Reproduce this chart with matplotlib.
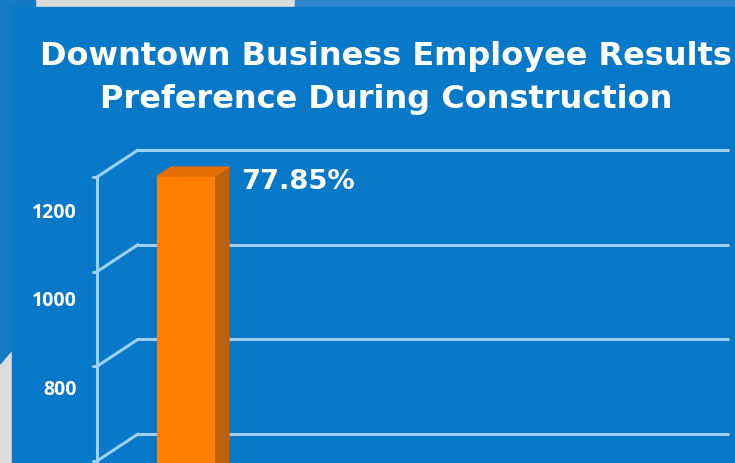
import matplotlib.pyplot as plt
from matplotlib.patches import Polygon, Rectangle

# chart data
title_lines = ['Downtown Business Employee Results', 'Preference During Construction']
categories = ['Employees']
values = [1385]
pct_labels = ['77.85%']
grid_values = [600, 800, 1000, 1200, 1400]
tick_values = [800, 1000, 1200]
tick_labels = ['800', '1000', '1200']

W, H = 735, 463
BLUE = '#0878c8'
GRID = '#9dd0f6'
ORANGE = '#ff7f00'
ORANGE_SIDE = '#c0600c'
ORANGE_TOP = '#e46e04'


def setup_axes(fig):
    ax = fig.add_axes([0, 0, 1, 1])
    ax.set_zorder(5)
    ax.set_facecolor('none')
    # back wall: value 1400 at 150 px, value 800 at 434 px (from top)
    ppu = (434 - 150) / 600
    ax.set_ylim(1400 - (H - 150) / ppu, 1400 + 150 / ppu)
    bar_w = 0.6
    ppc = 58 / bar_w
    x_left = -186 / ppc
    ax.set_xlim(x_left, x_left + W / ppc)
    ax.axis('off')
    return ax, ppu, ppc, x_left, bar_w


def draw_background(fig):
    fig.patch.set_facecolor('#dcdcdc')
    # bits of the other slides around the photographed one
    fig.patches.append(Polygon([[0, 1], [12 / W, 1], [12 / W, 1 - 350 / H], [0, 1 - 364 / H]],
                               closed=True, transform=fig.transFigure, color='#1479c4', zorder=0))
    fig.patches.append(Rectangle((0, 1 - 8 / H), 35 / W, 8 / H, transform=fig.transFigure,
                                 color='#1479c4', zorder=0))
    fig.patches.append(Rectangle((295 / W, 1 - 8 / H), 440 / W, 8 / H, transform=fig.transFigure,
                                 color='#2d86cc', zorder=0))
    fig.patches.append(Rectangle((12 / W, 0), (W - 12) / W, (H - 7) / H, transform=fig.transFigure,
                                 color=BLUE, zorder=1))


def main():
    fig = plt.figure(figsize=(W / 100, H / 100), dpi=100)
    draw_background(fig)
    ax, ppu, ppc, x_left, bar_w = setup_axes(fig)

    def dx(px):
        return px / ppc

    def dy(px):
        return px / ppu

    y_bot = ax.get_ylim()[0]
    wall_l = x_left + dx(138)
    wall_r = x_left + dx(728)
    front_x = x_left + dx(97)
    depth_y = 27

    line_kw = dict(color=GRID, lw=2.2, solid_capstyle='round', zorder=2)
    for v in grid_values:
        ax.plot([wall_l, wall_r], [v, v], **line_kw)
        ax.plot([front_x, wall_l], [v - dy(depth_y), v], **line_kw)
        ax.plot([front_x - dx(4), front_x], [v - dy(depth_y)] * 2, **line_kw)
    ax.plot([front_x, front_x], [y_bot, max(grid_values) - dy(depth_y)], **line_kw)

    # labels on the front axis sit on a slightly squeezed scale
    for v, lab in zip(tick_values, tick_labels):
        ax.text(x_left + dx(77), 1267 + (v - 1200) * 0.935, lab, ha='right', va='center',
                color='white', fontsize=14, fontweight='bold', family='Open Sans', zorder=5)

    # 3D bars: front face, side and top
    sx, sy = 14, 9
    for i, (v, lab) in enumerate(zip(values, pct_labels)):
        ftop = v - dy(19)
        x0, x1 = i - bar_w / 2, i + bar_w / 2
        ax.bar(i, ftop - y_bot, bottom=y_bot, width=bar_w, color=ORANGE, zorder=4)
        ax.add_patch(Polygon([[x1, y_bot], [x1, ftop], [x1 + dx(sx), ftop + dy(sy)],
                              [x1 + dx(sx), y_bot]], closed=True, color=ORANGE_SIDE, zorder=3))
        ax.add_patch(Polygon([[x0, ftop], [x1, ftop], [x1 + dx(sx), ftop + dy(sy)],
                              [x0 + dx(sx), ftop + dy(sy)]], closed=True, color=ORANGE_TOP, zorder=4))
        ax.text(x1 + dx(26), ftop - dy(12.5), lab, ha='left', va='baseline', color='white',
                fontsize=19.7, fontweight='bold', family='DejaVu Sans', zorder=5)

    for k, base in enumerate([65, 108]):
        fig.text(386 / W, 1 - base / H, title_lines[k], ha='center', va='baseline', color='white',
                 fontsize=23, fontweight='bold', family='DejaVu Sans', zorder=6)

    plt.savefig('out.png', dpi=100, facecolor=fig.get_facecolor())


if __name__ == '__main__':
    main()
